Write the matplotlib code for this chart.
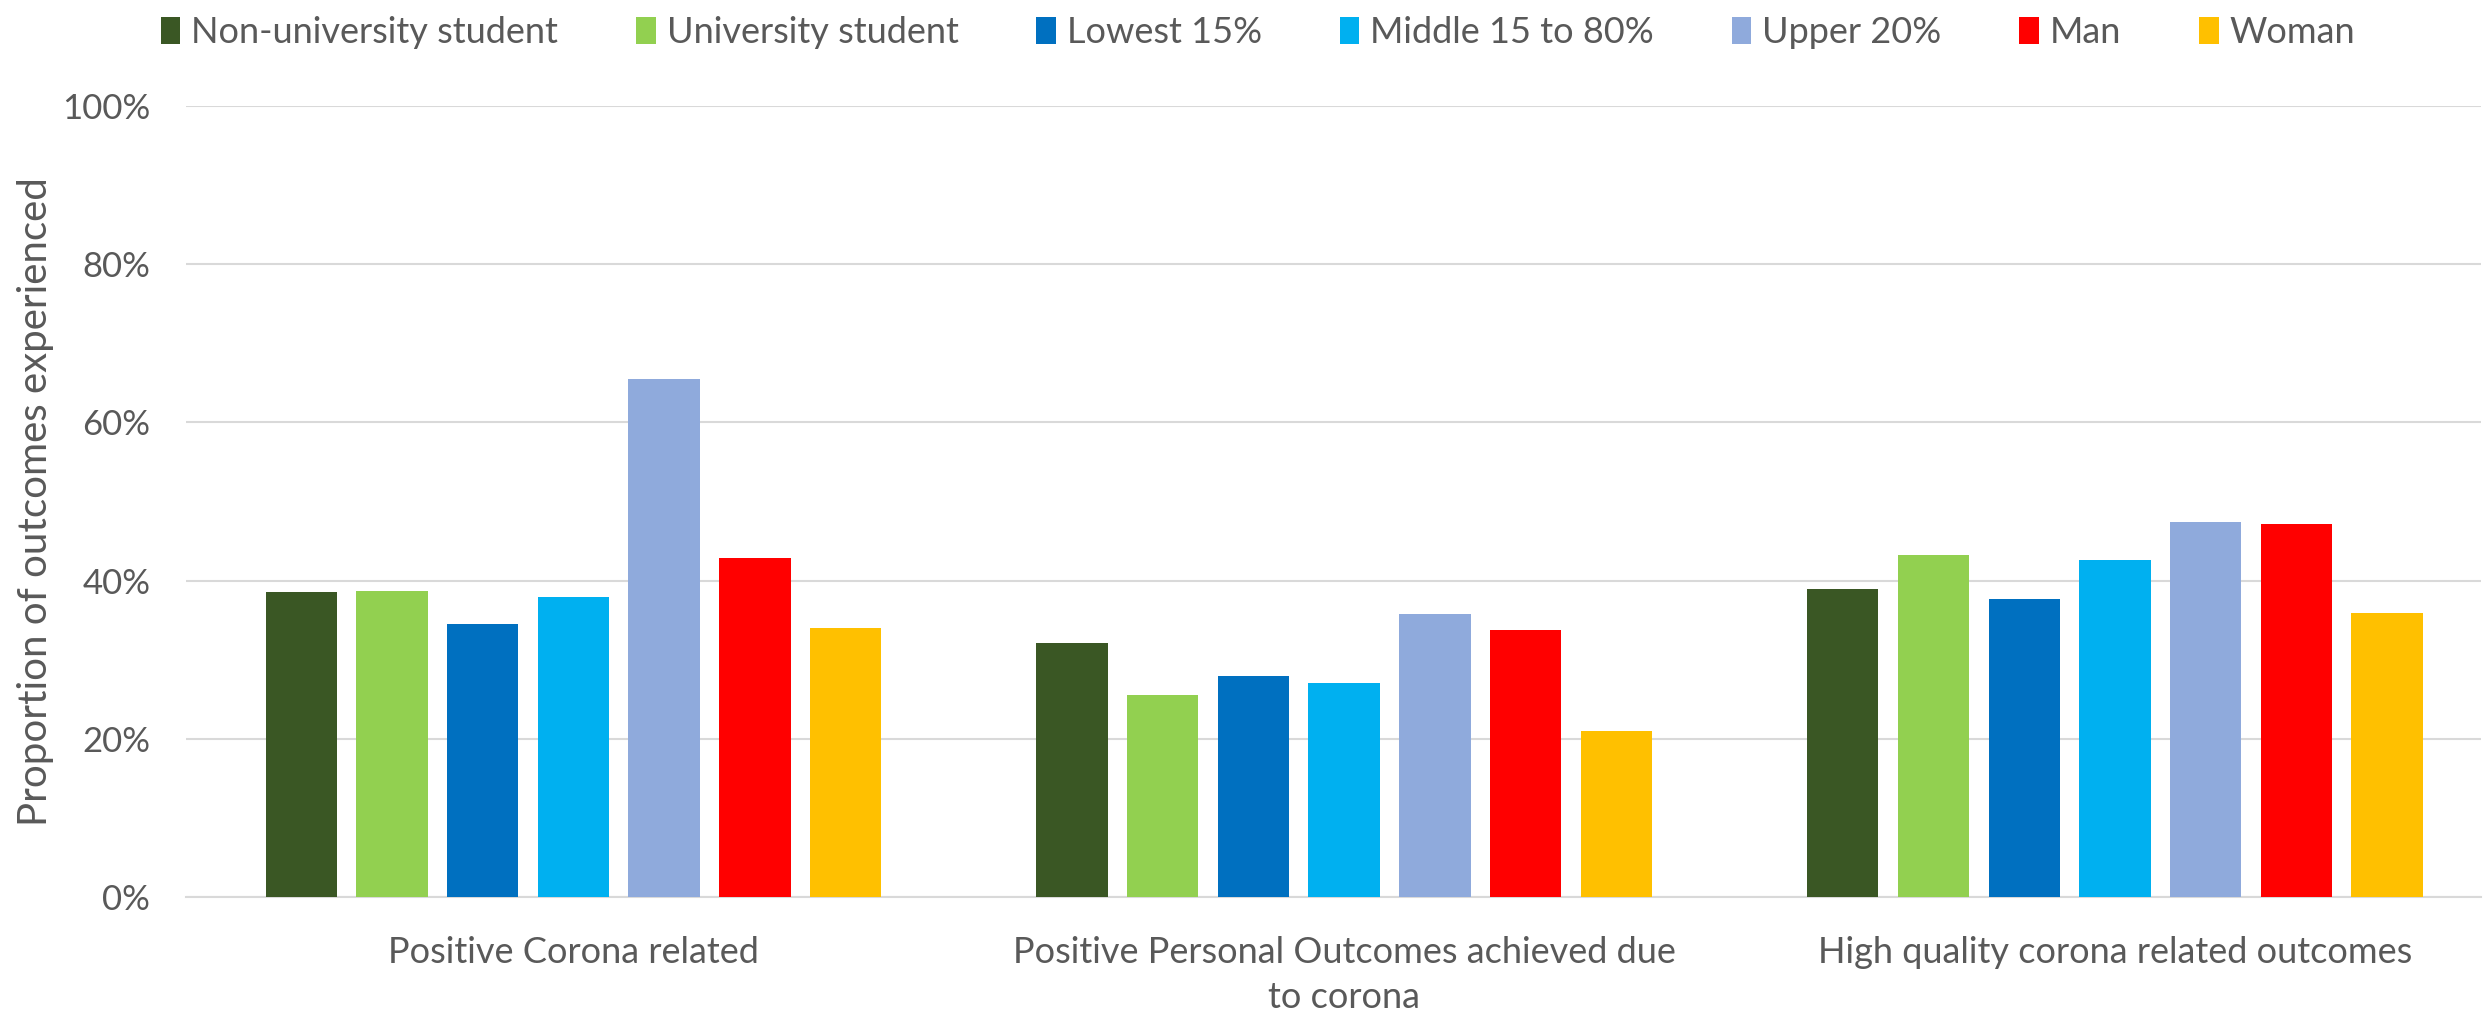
import numpy as np
import matplotlib.pyplot as plt
from matplotlib.ticker import PercentFormatter

# Données
categories = ["Positive Corona related",
              "Positive Personal Outcomes achieved due\nto corona",
              "High quality corona related outcomes"]
groups = ["Non-university student", "University student", "Lowest 15%",
          "Middle 15 to 80%", "Upper 20%", "Man", "Woman"]
non_university = [38.5, 32.1, 38.9]
university = [38.7, 25.5, 43.2]
lowest_15 = [34.5, 27.9, 37.7]
middle_15_80 = [37.9, 27.0, 42.6]
upper_20 = [65.5, 35.8, 47.4]
man = [42.9, 33.7, 47.1]
woman = [34.0, 21.0, 35.9]
colors = ["#3A5724", "#92D050", "#0070C0", "#00B0F0", "#8FAADC", "#FF0000", "#FFC000"]

series = [non_university, university, lowest_15, middle_15_80, upper_20, man, woman]

plt.rcParams['font.family'] = ['Lato', 'DejaVu Sans']
text_color = "#595959"

fig = plt.figure(figsize=(24.86, 10.21), dpi=100)
ax = fig.add_axes([0.075, 0.1214, 0.923, 0.7748])

x = np.arange(len(categories))
pitch = 0.1177
width = 0.0926
for i, (vals, col, name) in enumerate(zip(series, colors, groups)):
    offset = (i - 3) * pitch
    ax.bar(x + offset, vals, width, color=col, label=name, zorder=3)

ax.set_xlim(-0.502, 2.475)
ax.set_ylim(0, 100)
ax.set_yticks(np.arange(0, 101, 20))
ax.yaxis.set_major_formatter(PercentFormatter(decimals=0))
ax.grid(axis="y", color="#D9D9D9", linewidth=1.5, zorder=0)
for s in ["top", "right", "left"]:
    ax.spines[s].set_visible(False)
ax.spines["bottom"].set_color("#D9D9D9")
ax.spines["bottom"].set_linewidth(1.5)

ax.set_xticks(x)
ax.set_xticklabels(categories, fontsize=26, color=text_color, linespacing=1.45)
ax.tick_params(axis="x", length=0, pad=28)
ax.tick_params(axis="y", length=0, pad=26, labelsize=25, labelcolor=text_color)

ax.set_ylabel("Proportion of outcomes experienced", fontsize=29, color=text_color, labelpad=6)

fig.legend(loc="upper center", bbox_to_anchor=(0.506, 1.016), ncol=7, frameon=False,
           fontsize=26, labelcolor=text_color, handlelength=0.55, handleheight=0.8,
           handletextpad=0.3, columnspacing=2.15)

fig.savefig("out.png", dpi=100)
